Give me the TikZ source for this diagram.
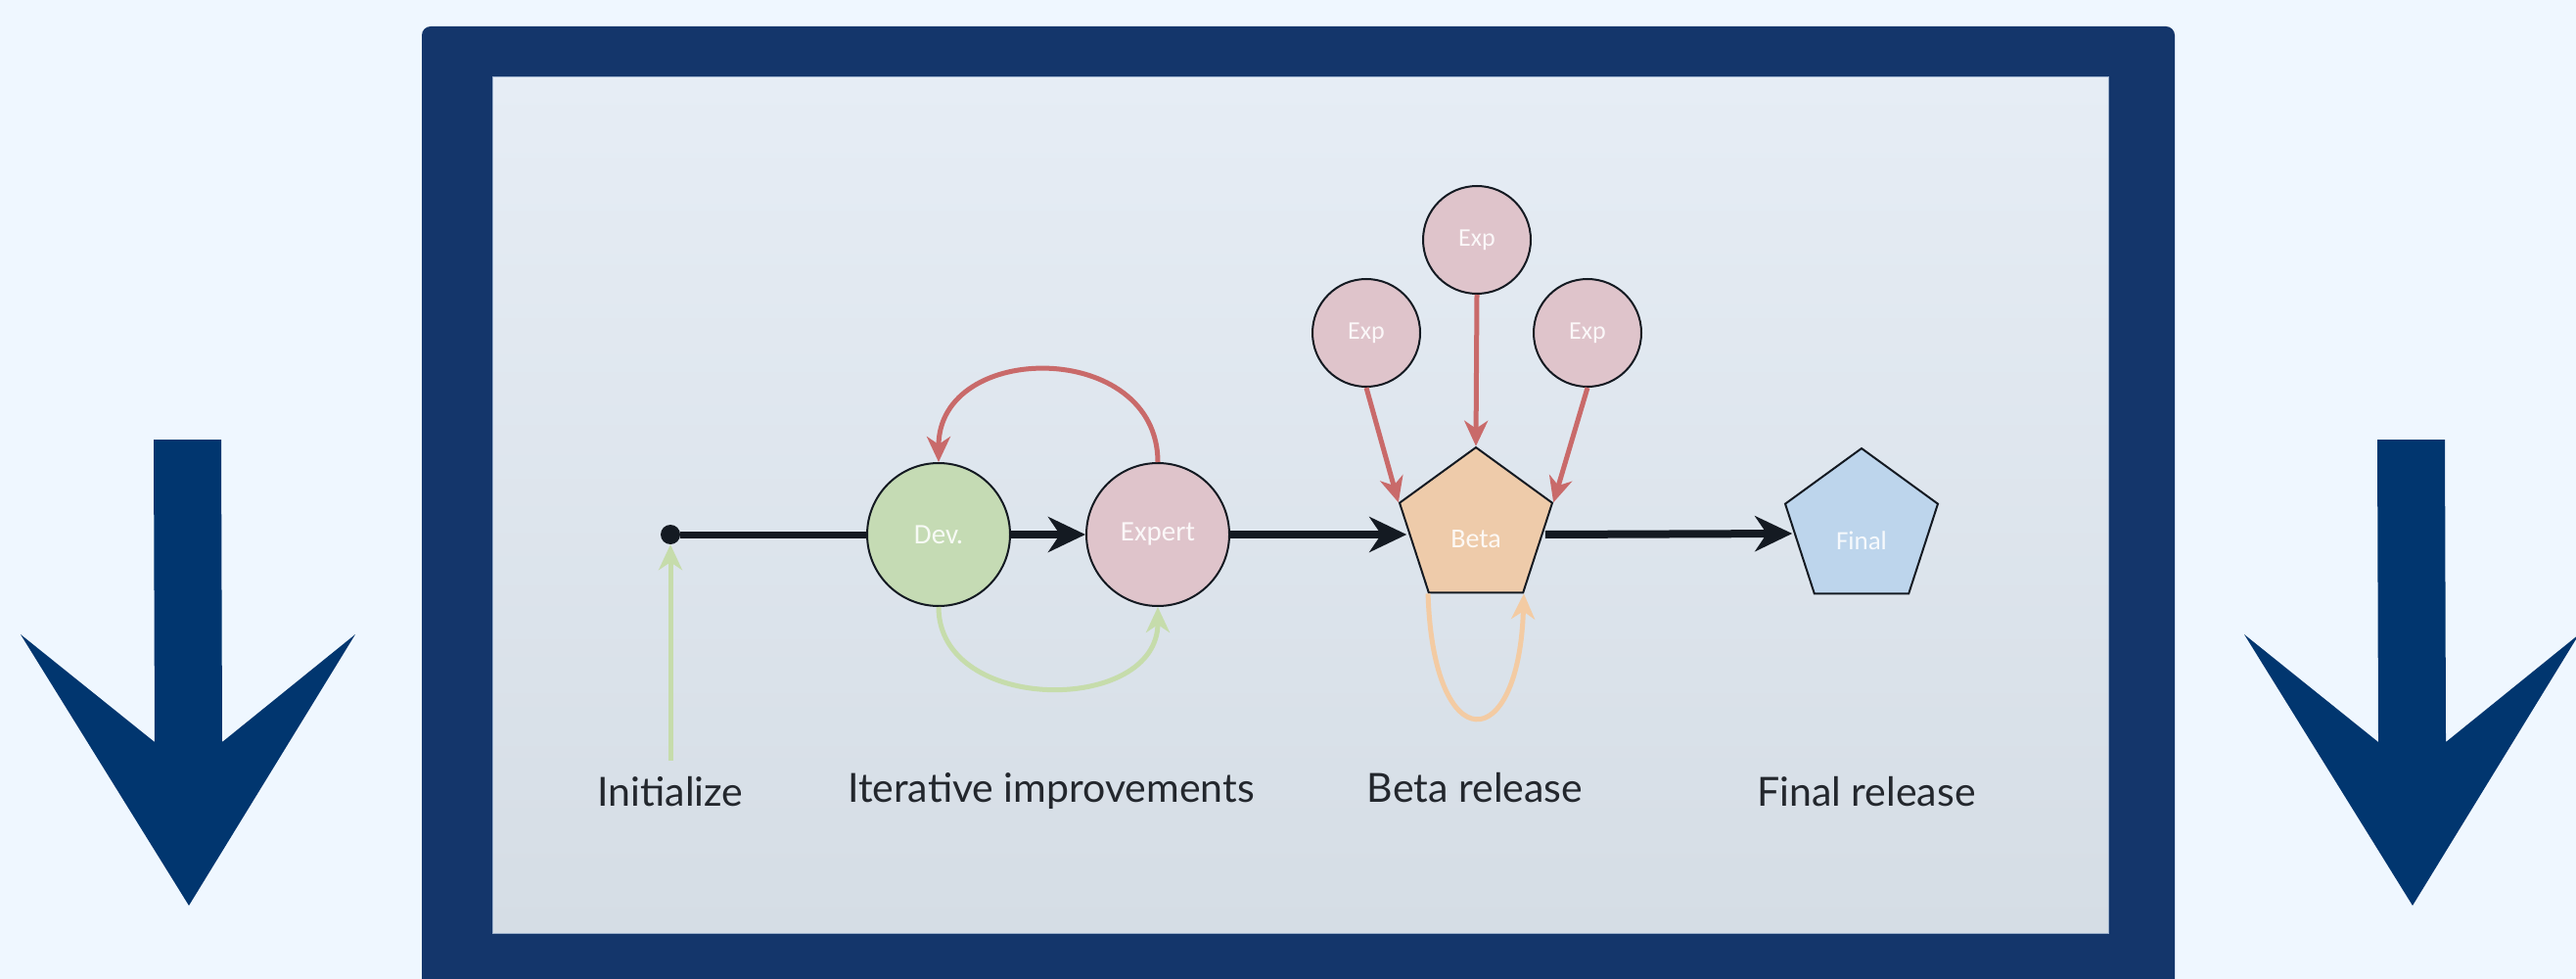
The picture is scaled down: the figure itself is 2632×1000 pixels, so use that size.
\documentclass[tikz,border=0pt]{standalone}
\usepackage{fontspec}
\setmainfont{Lato}
\newfontfamily\nodefont{Carlito}
\usetikzlibrary{shapes.geometric,arrows.meta}

\definecolor{bg}{HTML}{EFF7FF}
\definecolor{framecol}{HTML}{14366B}
\definecolor{bigarrow}{HTML}{01366F}
\definecolor{panelTop}{HTML}{E6EDF5}
\definecolor{panelBot}{HTML}{D5DDE5}
\definecolor{panelEdge}{HTML}{9AAFCB}
\definecolor{linedark}{HTML}{141A22}
\definecolor{devfill}{HTML}{C5DBB4}
\definecolor{expfill}{HTML}{DFC4CB}
\definecolor{betafill}{HTML}{EECBAA}
\definecolor{finalfill}{HTML}{BDD5EC}
\definecolor{redarr}{HTML}{C96A6A}
\definecolor{greenarr}{HTML}{C6DCAB}
\definecolor{orangearr}{HTML}{F3CBA3}
\definecolor{labeltext}{HTML}{23272D}

\begin{document}
\begin{tikzpicture}[x=1pt,y=-1pt,
  stage/.style={circle, draw=linedark, line width=2pt, inner sep=0pt,
    minimum size=146pt, text=white, text opacity=0.88,
    font=\nodefont\fontsize{29}{33}\selectfont},
  expnode/.style={circle, draw=linedark, line width=2pt, inner sep=0pt,
    minimum size=110pt, fill=expfill, text=white, text opacity=0.88,
    font=\nodefont\fontsize{26}{30}\selectfont},
  pent/.style={regular polygon, regular polygon sides=5, draw=linedark,
    line width=2pt, inner sep=0pt, minimum size=164pt},
  ntext/.style={text=white, text opacity=0.88, inner sep=0pt,
    font=\nodefont\fontsize{28}{32}\selectfont},
  dotnode/.style={circle, fill=linedark, inner sep=0pt, minimum size=20pt},
  caption/.style={anchor=base, inner sep=0pt, text=labeltext,
    font=\fontsize{41}{47}\selectfont},
  flow/.style={draw=linedark, line width=8pt,
    -{Stealth[length=38pt,width=36pt,inset=12pt]}},
  redflow/.style={draw=redarr, line width=5pt,
    -{Stealth[length=26pt,width=24pt,inset=8pt]}},
  greenflow/.style={draw=greenarr, line width=5pt,
    -{Stealth[length=26pt,width=24pt,inset=8pt]}},
  orangeflow/.style={draw=orangearr, line width=5pt,
    -{Stealth[length=26pt,width=24pt,inset=8pt]}}]

\useasboundingbox (0,0) rectangle (2632,1000);
\fill[bg] (0,0) rectangle (2632,1000);

% frame and panel
\fill[framecol, rounded corners=9pt] (431,27) rectangle (2222,1040);
\shade[top color=panelTop, bottom color=panelBot, draw=panelEdge, line width=1pt]
  (503,79) rectangle (2154,953);

% side arrows
\fill[bigarrow] (157,449) -- (226,449) -- (227,758) -- (363,648) -- (193,925)
  -- (21,648) -- (158,758) -- cycle;
\fill[bigarrow] (2429,449) -- (2498,449) -- (2499,758) -- (2635,648) -- (2465,925)
  -- (2293,648) -- (2430,758) -- cycle;

% stages
\node[dotnode] (start) at (685,546) {};
\node[stage, fill=devfill] (dev) at (959,546) {Dev.};
\node[stage, fill=expfill] (expert) at (1183,546) {Expert};
\node[pent, fill=betafill] (beta) at (1508,539) {};
\node[ntext] (betalabel) at (1508,551) {Beta};
\node[pent, fill=finalfill] (final) at (1902,540) {};
\node[ntext, font=\nodefont\fontsize{27}{31}\selectfont] (finallabel) at (1902,552) {Final};
\node[expnode] (expL) at (1396,340) {Exp};
\node[expnode] (expT) at (1509,245) {Exp};
\node[expnode] (expR) at (1622,340) {Exp};
\coordinate (initfoot) at (685,777);

% captions
\node[caption] (capInit) at (685,823) {Initialize};
\node[caption] (capIter) at (1074,819) {Iterative improvements};
\node[caption] (capBeta) at (1507,819) {Beta release};
\node[caption] (capFinal) at (1907,823) {Final release};

% main flow
\draw[draw=linedark, line width=7pt] (start) -- (dev.west);
\draw[flow] (dev) -- (expert);
\draw[flow] (expert) -- ([yshift=-7pt]beta.west);
\draw[flow] ([yshift=-7pt]beta.east) -- ([yshift=-5pt]final.west);

% feedback loops
\draw[redflow] (expert.north) .. controls +(0,-125) and +(0,-125) .. (dev.north);
\draw[greenflow] (dev.south) .. controls +(0,110) and +(0,110) .. (expert.south);
\draw[greenflow] (initfoot) -- (start.south);
\draw[orangeflow] (beta.corner 3) .. controls +(5,170) and +(-5,167) .. (beta.corner 4);

% expert reviews
\draw[redflow] (expL.south) -- (beta.corner 2);
\draw[redflow] (expT.south) -- (beta.corner 1);
\draw[redflow] (expR.south) -- (beta.corner 5);
\end{tikzpicture}
\end{document}
